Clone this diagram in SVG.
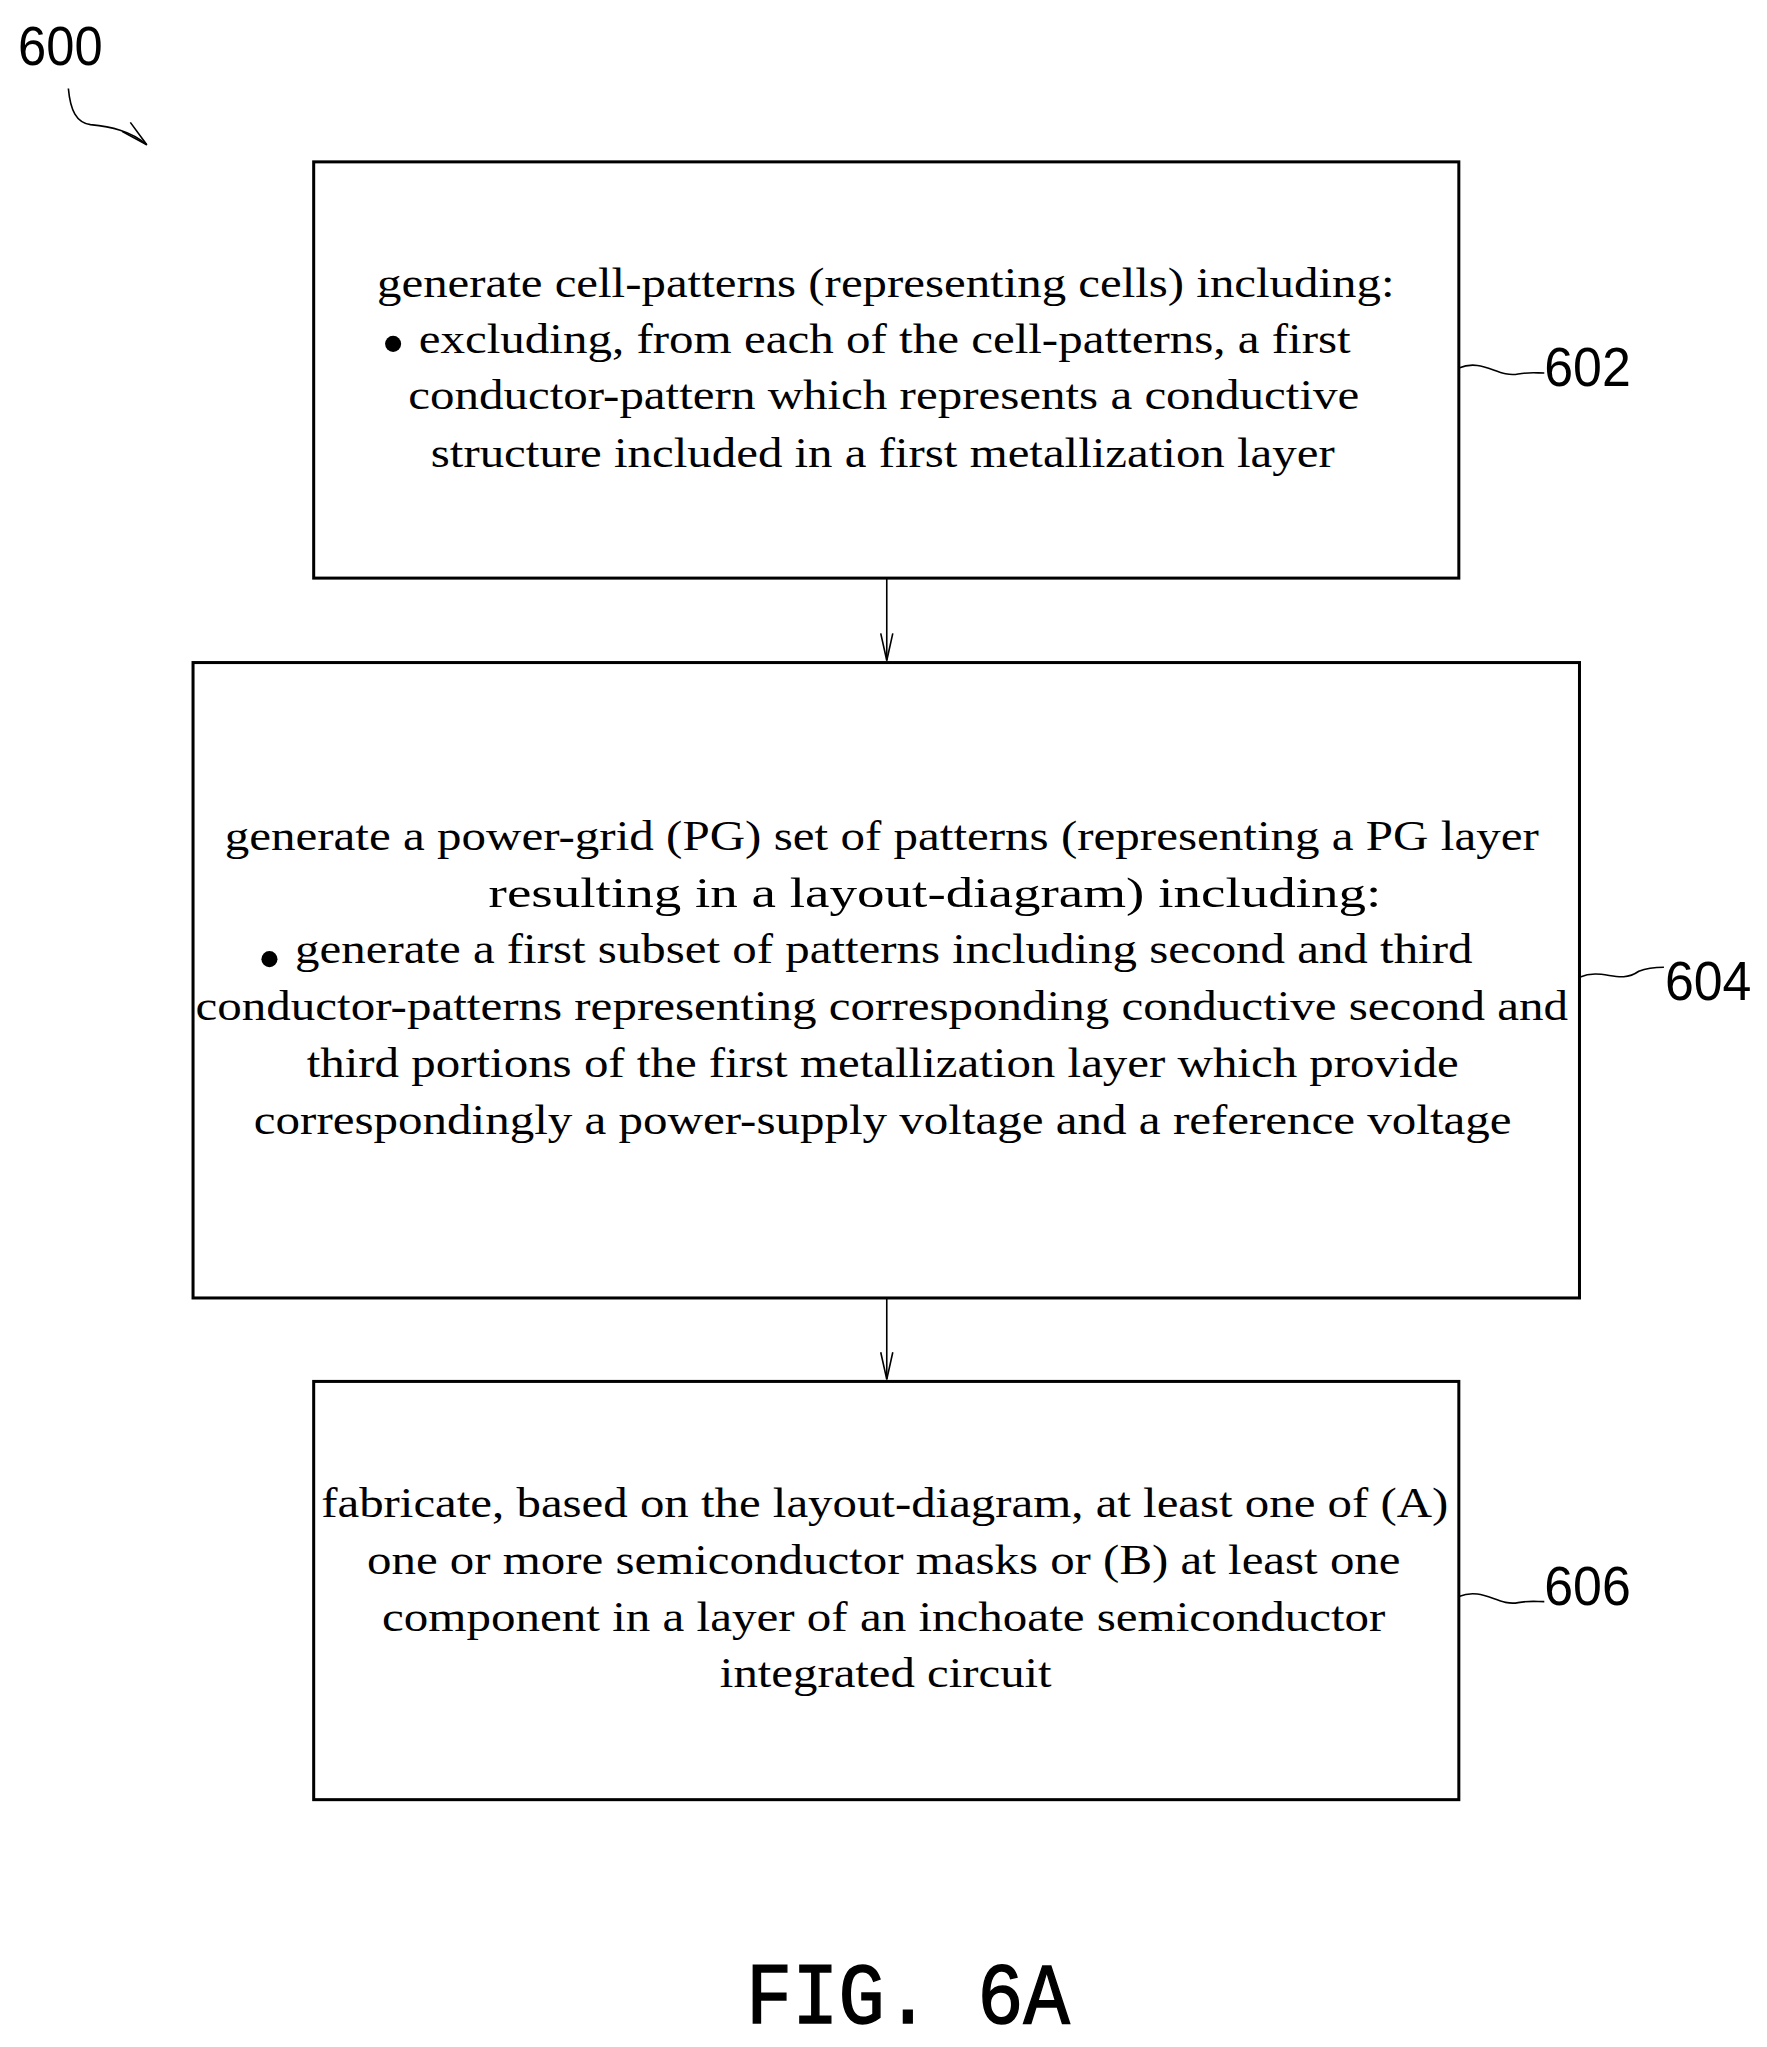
<svg xmlns="http://www.w3.org/2000/svg" width="1767" height="2047" viewBox="0 0 1767 2047">
<style>
.b{fill:#fff;stroke:#000;stroke-width:3}
.t{font-family:"Liberation Serif",serif;font-size:42px;text-anchor:middle;fill:#000}
.l{font-family:"Liberation Sans",sans-serif;font-size:56px;fill:#000}
.c{fill:none;stroke:#000;stroke-width:1.6}
</style>
<defs><marker id="a" markerWidth="30" markerHeight="16" refX="28" refY="8" orient="auto" markerUnits="userSpaceOnUse"><path d="M1 2 L28 8 L1 14" fill="none" stroke="#000" stroke-width="1.6"/></marker></defs>
<rect width="1767" height="2047" fill="#fff"/>
<g transform="scale(1.0054)">
<g id="n602"><rect class="b" x="312" y="161" width="1139" height="414"/>
<text class="t" x="881" y="295" textLength="1012" lengthAdjust="spacingAndGlyphs">generate cell-patterns (representing cells) including:</text>
<circle cx="391" cy="342" r="8"/>
<text class="t" x="880" y="351" textLength="927" lengthAdjust="spacingAndGlyphs">excluding, from each of the cell-patterns, a first</text>
<text class="t" x="879" y="407" textLength="946" lengthAdjust="spacingAndGlyphs">conductor-pattern which represents a conductive</text>
<text class="t" x="878" y="464" textLength="899" lengthAdjust="spacingAndGlyphs">structure included in a first metallization layer</text>
<text class="l" x="1536" y="384" textLength="86" lengthAdjust="spacingAndGlyphs">602</text></g>
<g id="n604"><rect class="b" x="192" y="659" width="1379" height="632"/>
<text class="t" x="877" y="845" textLength="1307" lengthAdjust="spacingAndGlyphs">generate a power-grid (PG) set of patterns (representing a PG layer</text>
<text class="t" x="930" y="902" textLength="888" lengthAdjust="spacingAndGlyphs">resulting in a layout-diagram) including:</text>
<circle cx="268" cy="954" r="8"/>
<text class="t" x="879" y="958" textLength="1171" lengthAdjust="spacingAndGlyphs">generate a first subset of patterns including second and third</text>
<text class="t" x="877" y="1015" textLength="1365" lengthAdjust="spacingAndGlyphs">conductor-patterns representing corresponding conductive second and</text>
<text class="t" x="878" y="1071" textLength="1146" lengthAdjust="spacingAndGlyphs">third portions of the first metallization layer which provide</text>
<text class="t" x="878" y="1128" textLength="1251" lengthAdjust="spacingAndGlyphs">correspondingly a power-supply voltage and a reference voltage</text>
<text class="l" x="1656" y="995" textLength="86" lengthAdjust="spacingAndGlyphs">604</text></g>
<g id="n606"><rect class="b" x="312" y="1374" width="1139" height="416"/>
<text class="t" x="880" y="1509" textLength="1121" lengthAdjust="spacingAndGlyphs">fabricate, based on the layout-diagram, at least one of (A)</text>
<text class="t" x="879" y="1566" textLength="1028" lengthAdjust="spacingAndGlyphs">one or more semiconductor masks or (B) at least one</text>
<text class="t" x="879" y="1622" textLength="998" lengthAdjust="spacingAndGlyphs">component in a layer of an inchoate semiconductor</text>
<text class="t" x="881" y="1678" textLength="330" lengthAdjust="spacingAndGlyphs">integrated circuit</text>
<text class="l" x="1536" y="1596" textLength="86" lengthAdjust="spacingAndGlyphs">606</text></g>
<g id="n600"><text class="l" x="18" y="65" textLength="84" lengthAdjust="spacingAndGlyphs">600</text></g>
<g id="connectors">
<line class="c" x1="882" y1="575" x2="882" y2="657" marker-end="url(#a)"/>
<line class="c" x1="882" y1="1291" x2="882" y2="1372" marker-end="url(#a)"/>
<path class="c" d="M1451 366 C1475 356 1490 376 1510 372 C1520 370 1528 371 1536 371"/>
<path class="c" d="M1571 972 C1595 962 1610 980 1630 966 C1640 962 1648 962 1655 962"/>
<path class="c" d="M1451 1588 C1475 1578 1490 1598 1510 1594 C1520 1592 1528 1593 1536 1593"/>
<path class="c" d="M68 88 C70 110 76 122 90 124 C110 126 130 130 146 144" marker-end="url(#a)"/>
</g>
<text x="903" y="2012" font-family="Liberation Mono,monospace" font-size="86" text-anchor="middle" stroke="#000" stroke-width="1.5" textLength="322" lengthAdjust="spacingAndGlyphs">FIG. 6A</text>
</g>
</svg>
